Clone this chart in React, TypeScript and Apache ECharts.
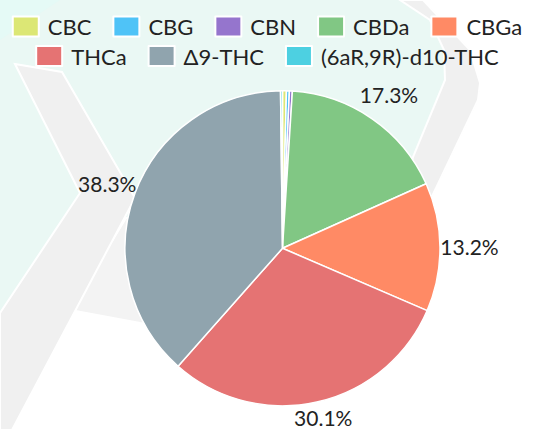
import React, { useEffect, useRef } from 'react';
import * as echarts from 'echarts';

const names = ['CBC', 'CBG', 'CBN', 'CBDa', 'CBGa', 'THCa', 'Δ9-THC', '(6aR,9R)-d10-THC'];
const values = [0.4, 0.3, 0.3, 17.3, 13.2, 30.1, 38.3, 0.2];
const colors = ['#dce775', '#4fc3f7', '#9575cd', '#81c784', '#ff8a65', '#e57373', '#90a4ae', '#4dd0e1'];
const legendRow1 = names.slice(0, 5);
const legendRow2 = names.slice(5);

const FONT = 'Lato, "Noto Sans", sans-serif';
const W = 534;
const H = 430;

function background() {
  const mint = '#eaf8f4';
  const grey = '#f0f0f0';
  const grey2 = '#f3f3f3';
  return [
    {
      type: 'polygon', z: 0, silent: true,
      shape: { points: [[0, 0], [400, 0], [430, 20], [444, 50], [445, 80], [413, 157], [395, 200], [380, 218], [126, 218], [0, 420]] },
      style: { fill: mint },
    },
    {
      type: 'polygon', z: 0, silent: true,
      shape: { points: [[0, 0], [60, 0], [0, 40]] },
      style: { fill: '#e5faf6' },
    },
    {
      type: 'polygon', z: 0, silent: true,
      shape: { points: [[126, 218], [300, 214], [300, 335], [140, 323], [70, 310]] },
      style: { fill: grey2, stroke: '#fff', lineWidth: 2 },
    },
    {
      type: 'polygon', z: 1, silent: true,
      shape: { points: [[15, 64], [62, 72], [135, 198], [12, 430], [0, 430], [0, 313], [80, 193]] },
      style: { fill: grey, stroke: '#fff', lineWidth: 2 },
    },
    {
      type: 'polygon', z: 0, silent: true,
      shape: { points: [[400, 0], [423, 0], [470, 50], [480, 83], [478, 100], [427, 207], [400, 215], [413, 157], [445, 80], [444, 50], [430, 20]] },
      style: { fill: grey, stroke: '#fff', lineWidth: 2 },
    },
  ];
}

export default function App() {
  const ref = useRef<HTMLDivElement>(null);

  useEffect(() => {
    if (!ref.current) return;
    const chart = echarts.init(ref.current, undefined, { renderer: 'svg' });

    const mainData = names.map((n, i) => ({ name: n, value: values[i], itemStyle: { color: colors[i] } }));
    const labelData = names.map((n, i) => ({ name: n, value: values[i] }));

    const legendCommon = {
      left: 'center',
      itemWidth: 26,
      itemHeight: 20,
      itemGap: 21,
      icon: 'rect',
      textStyle: {
        fontSize: 22,
        lineHeight: 24,
        fontFamily: FONT,
        color: '#222',
        padding: [0, 0, 0, 4],
      },
    };

    chart.setOption({
      animation: false,
      backgroundColor: '#fff',
      graphic: background(),
      legend: [
        { ...legendCommon, top: 9.5, data: legendRow1 },
        { ...legendCommon, top: 39, data: legendRow2 },
      ],
      series: [
        {
          type: 'pie',
          center: [282.5, 248.3],
          radius: 157.5,
          startAngle: 90,
          clockwise: true,
          label: { show: false },
          labelLine: { show: false },
          itemStyle: { borderColor: '#fff', borderWidth: 1.5 },
          emphasis: { disabled: true },
          data: mainData,
        },
        {
          type: 'pie',
          center: [282.5, 248.3],
          radius: [171, 197],
          startAngle: 90,
          clockwise: true,
          silent: true,
          avoidLabelOverlap: false,
          minShowLabelAngle: 3,
          itemStyle: { color: 'rgba(0,0,0,0)', borderWidth: 0 },
          label: {
            show: true,
            position: 'inside',
            fontSize: 21,
            fontFamily: FONT,
            color: '#222',
            formatter: (p: any) => `${Number(p.value).toFixed(1)}%`,
          },
          labelLayout: (p: any) => {
            const r = p.labelRect;
            const maxBottom = H - 2;
            if (r.y + r.height > maxBottom) {
              return { y: maxBottom - r.height / 2 };
            }
            return {};
          },
          labelLine: { show: false },
          emphasis: { disabled: true },
          data: labelData,
        },
      ],
    });

    return () => chart.dispose();
  }, []);

  return (
    <div
      ref={ref}
      style={{ position: 'fixed', left: 0, top: 0, width: W, height: H }}
    />
  );
}
